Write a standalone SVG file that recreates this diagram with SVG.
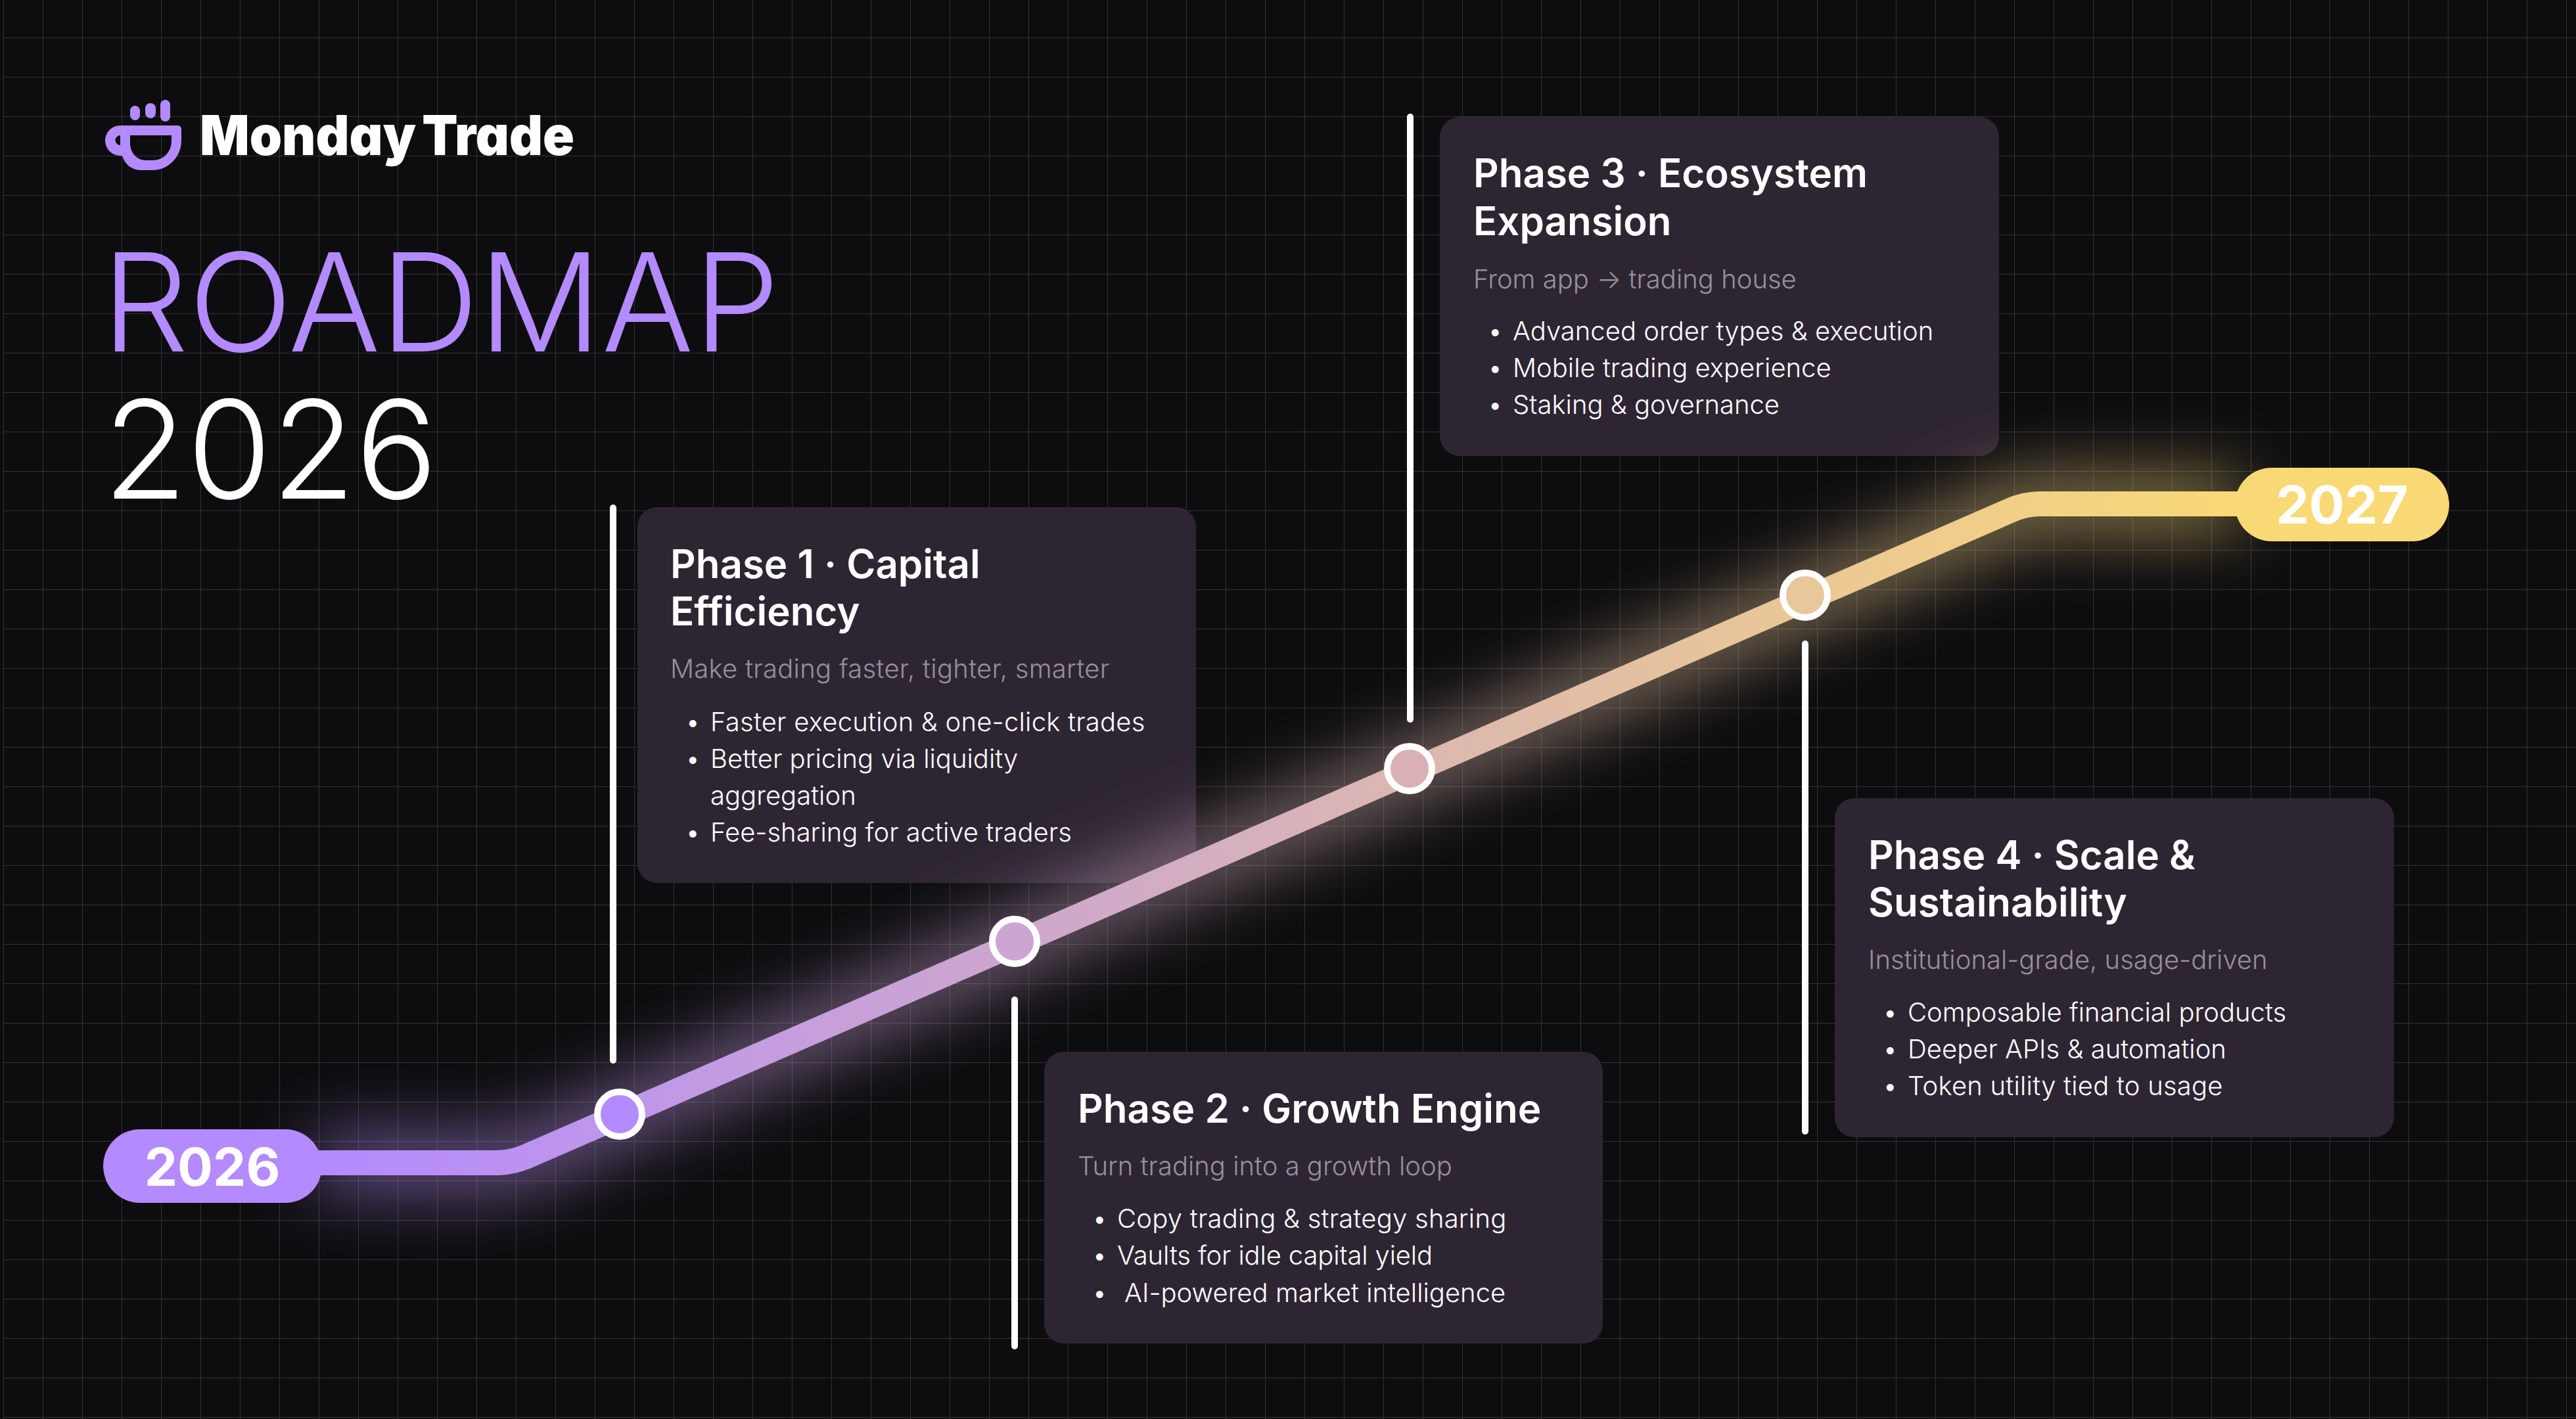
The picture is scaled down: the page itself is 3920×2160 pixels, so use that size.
<svg xmlns="http://www.w3.org/2000/svg" width="3920" height="2160" viewBox="0 0 3920 2160">
<style>
text{font-family:"Inter","Liberation Sans",sans-serif}
.card{fill:#2e2532}
.t{font-size:60px;font-weight:600;fill:#fff}
.s{font-size:40px;font-weight:300;fill:#96909c}
.b{font-size:40px;font-weight:300;fill:#fff}
.w{letter-spacing:.22px}
.bar{fill:#fff}
.pin{stroke:#fff;stroke-width:10}
.yr{font-size:80px;font-weight:700;fill:#fff;text-anchor:middle}
.hero{font-size:208px;font-weight:300}
</style>
<defs>
<pattern id="grid" x="5" y="-3" width="60" height="60" patternUnits="userSpaceOnUse">
<rect x="0" y="0" width="60" height="1" fill="#333335"/>
<rect x="0" y="0" width="1" height="60" fill="#333335"/>
</pattern>
<linearGradient id="road" gradientUnits="userSpaceOnUse" x1="480" y1="0" x2="3410" y2="0">
<stop offset="0" stop-color="#b48aff"/>
<stop offset="1" stop-color="#f9d976"/>
</linearGradient>
<filter id="glow" filterUnits="userSpaceOnUse" x="0" y="300" width="3920" height="1800">
<feGaussianBlur stdDeviation="55"/>
</filter>
</defs>
<rect width="3920" height="2160" fill="#0d0d0f"/>
<rect x="5" width="3915" height="2160" fill="url(#grid)"/>
<g id="logo">
<path fill="#b48aff" fill-rule="evenodd" d="M183 191H270Q276 191 276 197V214C276 240 255 259 232 259H215C200 259 190 250 186 237H183A23 23 0 0 1 183 191ZM198 206H261V214C261 232 248 244 232 244H222C208 244 198 232 198 218ZM183 206A7.500 7.500 0 0 0 183 221Z"/>
<rect x="198" y="161" width="15" height="22" rx="7.500" fill="#b48aff"/>
<rect x="221" y="157" width="16" height="23" rx="8" fill="#b48aff"/>
<rect x="244" y="152" width="15" height="33" rx="7.500" fill="#b48aff"/>
<text x="304" y="236" font-size="84" font-weight="900" fill="#fff" word-spacing="-7" style="font-feature-settings:'cv11'" textLength="570" lengthAdjust="spacingAndGlyphs">Monday Trade</text>
</g>
<g id="title">
<text class="hero" x="155" y="535" fill="#b48aff">ROADMAP</text>
<text class="hero" x="157" y="759" fill="#fff">2026</text>
</g>
<g id="phase1">
<rect class="card" x="970" y="772" width="850" height="572" rx="30"/>
<text class="t" x="1020" y="880">Phase 1 · Capital</text>
<text class="t" x="1020" y="952">Efficiency</text>
<text class="s w" x="1020" y="1032" style="letter-spacing:.28px">Make trading faster, tighter, smarter</text>
<text class="b" x="1043" y="1113">•</text><text class="b w" x="1081" y="1113">Faster execution &amp; one-click trades</text>
<text class="b" x="1043" y="1169">•</text><text class="b" x="1081" y="1169">Better pricing via liquidity</text>
<text class="b" x="1081" y="1225">aggregation</text>
<text class="b" x="1043" y="1281">•</text><text class="b" x="1081" y="1281">Fee-sharing for active traders</text>
</g>
<g id="phase2">
<rect class="card" x="1589" y="1601" width="850" height="444" rx="30"/>
<text class="t" x="1640" y="1709">Phase 2 · Growth Engine</text>
<text class="s" x="1640" y="1789">Turn trading into a growth loop</text>
<text class="b" x="1662" y="1869">•</text><text class="b w" x="1700" y="1869">Copy trading &amp; strategy sharing</text>
<text class="b" x="1662" y="1925">•</text><text class="b" x="1700" y="1925" style="letter-spacing:-.15px">Vaults for idle capital yield</text>
<text class="b" x="1662" y="1982">•</text><text class="b" x="1711" y="1982">AI-powered market intelligence</text>
</g>
<g id="phase3">
<rect class="card" x="2191" y="178" width="851" height="516" rx="30"/>
<text class="t" x="2242" y="285">Phase 3 · Ecosystem</text>
<text class="t" x="2242" y="358">Expansion</text>
<text class="s" x="2242" y="439">From app → trading house</text>
<text class="b" x="2264" y="518">•</text><text class="b" x="2302" y="518">Advanced order types &amp; execution</text>
<text class="b" x="2264" y="574">•</text><text class="b" x="2302" y="574">Mobile trading experience</text>
<text class="b" x="2264" y="630">•</text><text class="b" x="2302" y="630">Staking &amp; governance</text>
</g>
<g id="phase4">
<rect class="card" x="2792" y="1215" width="851" height="516" rx="30"/>
<text class="t" x="2843" y="1323">Phase 4 · Scale &amp;</text>
<text class="t" x="2843" y="1395">Sustainability</text>
<text class="s" x="2843" y="1475">Institutional-grade, usage-driven</text>
<text class="b" x="2865" y="1555">•</text><text class="b" x="2903" y="1555">Composable financial products</text>
<text class="b" x="2865" y="1611">•</text><text class="b" x="2903" y="1611">Deeper APIs &amp; automation</text>
<text class="b" x="2865" y="1667">•</text><text class="b w" x="2903" y="1667">Token utility tied to usage</text>
</g>
<g id="connectors">
<path d="M480 1770H755Q779 1770 802 1760L3059 777Q3081 767 3105 767H3410" fill="none" stroke="url(#road)" stroke-width="48" filter="url(#glow)"/>
<path d="M480 1770H755Q779 1770 802 1760L3059 777Q3081 767 3105 767H3410" fill="none" stroke="url(#road)" stroke-width="38"/>
<rect class="bar" x="928" y="768" width="10" height="851" rx="5"/>
<rect class="bar" x="1539" y="1517" width="10" height="537" rx="5"/>
<rect class="bar" x="2141" y="173" width="10" height="927" rx="5"/>
<rect class="bar" x="2742" y="975" width="10" height="752" rx="5"/>
</g>
<g id="start"><rect x="157" y="1719" width="333" height="112" rx="56" fill="#b48aff"/><text class="yr" x="323" y="1805">2026</text></g>
<g id="end"><rect x="3401" y="712" width="326" height="112" rx="56" fill="#f9d976"/><text class="yr" x="3564" y="797">2027</text></g>
<g id="node1"><circle class="pin" cx="943" cy="1696" r="34" fill="#b48aff"/></g>
<g id="node2"><circle class="pin" cx="1544" cy="1433" r="34" fill="#cba6d3"/></g>
<g id="node3"><circle class="pin" cx="2145" cy="1170" r="34" fill="#d9b1b4"/></g>
<g id="node4"><circle class="pin" cx="2747" cy="906" r="34" fill="#e8c79b"/></g>
</svg>
